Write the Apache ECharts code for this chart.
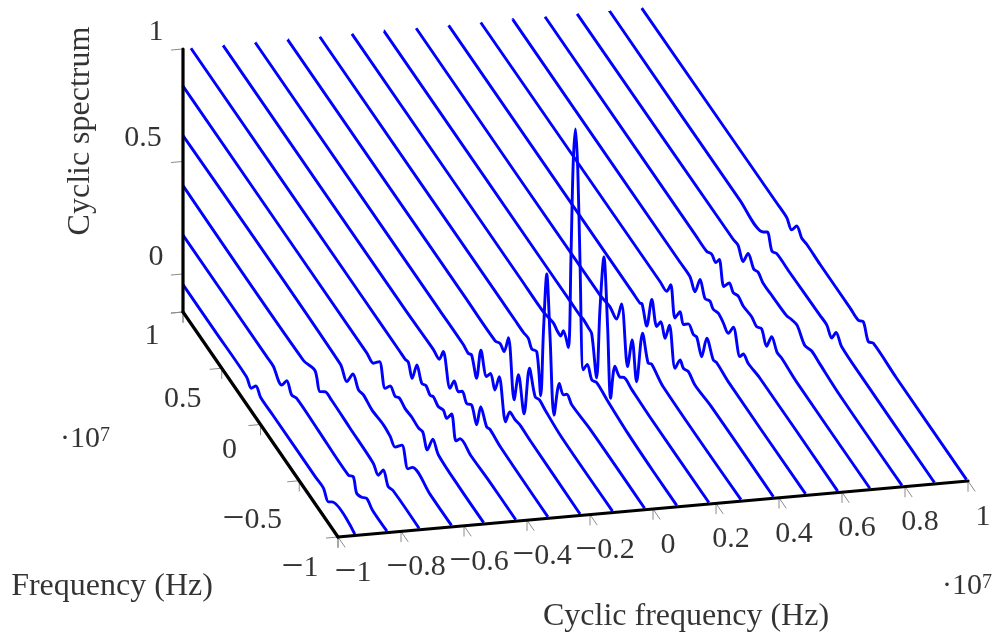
<!DOCTYPE html>
<html><head><meta charset="utf-8">
<style>html,body{margin:0;padding:0;background:#fff}#c{width:995px;height:635px}</style>
<script src="https://cdn.jsdelivr.net/npm/echarts@6/dist/echarts.min.js"></script>
</head><body><div id="c"></div>
<script>
// Tick values
const alphaTicks = [-1,-0.8,-0.6,-0.4,-0.2,0,0.2,0.4,0.6,0.8,1];
const alphaTickLabels = ['−1','−0.8','−0.6','−0.4','−0.2','0','0.2','0.4','0.6','0.8','1'];
const freqTicks = [-1,-0.5,0,0.5,1];
const freqTickLabels = ['−1','−0.5','0','0.5','1'];
const zTicks = [0,0.5,1];
const zTickLabels = ['0','0.5','1'];
// Cyclic frequency of each drawn line (×10^7 Hz)
const lineAlphas = [-1.022,-0.92,-0.818,-0.715,-0.613,-0.511,-0.409,-0.307,-0.204,-0.102,0,0.102,0.204,0.307,0.409,0.511,0.613,0.715,0.818,0.92];
// [frequency, spectrum] readings along each line
const lineM10 = [[0.5,0],[0.09,0],[0.03,-0.02],[-0.03,0.02],[-0.09,0],[-0.25,0],[-0.8,0],[-0.9,0.002],[-0.966,-0.027],[-1.01,-0.005]];
const lineM9 = [[0.245,0],[0.16,0],[0.052,-0.03],[-0.013,0.022],[-0.077,-0.009],[-0.142,0.008],[-0.42,0.005],[-0.808,0],[-0.872,0.025],[-0.916,-0.027],[-0.98,-0.012],[-1.045,0.015],[-1.12,0]];
const lineM8 = [[0.188,0],[0.037,0.03],[-0.027,-0.032],[-0.092,0],[-0.178,0.005],[-0.414,0],[-0.715,-0.006],[-0.78,-0.027],[-0.844,0.028],[-0.908,-0.014],[-0.97,0]];
const lineM7 = [[0.13,0],[0.044,-0.036],[-0.034,0.037],[-0.106,0.002],[-0.17,0.012],[-0.279,0],[-0.428,0.008],[-0.515,0],[-0.58,-0.015],[-0.666,0.037],[-0.743,-0.03],[-0.8,0.005],[-1.03,0]];
const lineM6 = [[0.2,0],[0.116,-0.003],[0.039,0.043],[-0.035,-0.039],[-0.1,0.004],[-0.164,-0.01],[-0.219,0.01],[-0.293,0],[-0.38,0.005],[-0.465,0],[-0.52,0.01],[-0.58,-0.04],[-0.65,0.043],[-0.723,0.009],[-1,0]];
const lineM5 = [[0.66,0],[0.187,0],[0.12,0],[0.08,0.007],[0.03,-0.04],[-0.03,0.05],[-0.093,0],[-0.148,0.017],[-0.2,0],[-0.243,0.015],[-0.307,0.003],[-0.372,0.02],[-0.415,0.005],[-0.477,0.055],[-0.535,-0.035],[-0.587,0],[-0.73,-0.005],[-0.97,0]];
const lineM4 = [[0.538,0],[0.173,0.005],[0.095,0],[0.044,0.06],[-0.043,-0.06],[-0.098,0],[-0.15,-0.022],[-0.2,0.005],[-0.258,-0.02],[-0.323,0.005],[-0.387,-0.05],[-0.439,0.056],[-0.516,0.005],[-0.559,0.015],[-0.688,0.005]];
const lineM3 = [[0.5,0],[0.2,0],[0.137,-0.007],[0.093,0.007],[0.028,-0.064],[-0.027,0.089],[-0.1,0.008],[-0.152,0.048],[-0.208,0.002],[-0.263,0.089],[-0.346,-0.07],[-0.4,0],[-0.466,0],[-0.53,0.008],[-0.66,0.005]];
const lineM2 = [[0.6,0],[0.208,0],[0.143,0.02],[0.092,0.01],[0.036,0.1],[-0.037,-0.14],[-0.093,0],[-0.166,-0.138],[-0.235,0.1],[-0.308,0.01],[-0.364,0.023],[-0.437,0.015],[-0.65,0]];
const lineM1 = [[0.559,0],[0.365,0],[0.258,0],[0.194,0.005],[0.15,-0.02],[0.085,0],[0.034,-0.17],[0,0.125],[-0.044,0.41],[-0.086,0.153],[-0.138,-0.17],[-0.206,0.005],[-0.258,-0.02],[-0.302,0.005],[-0.366,-0.01],[-0.6,0]];
const line0 = [[0.7,0],[0.415,0],[0.286,0.015],[0.235,0.005],[0.19,0.005],[0.157,0.045],[0.093,0.002],[0.058,0.43],[0.03,0.85],[0,1.02],[-0.03,0.85],[-0.058,0.46],[-0.1,0],[-0.152,0.05],[-0.21,0.01],[-0.274,0.03],[-0.4,0.02],[-0.68,0.005],[-1,0]];
const lineP1 = [[0.85,0],[0.486,0],[0.357,0],[0.315,0.005],[0.25,0],[0.206,-0.005],[0.142,-0.17],[0.1,0.15],[0.048,0.415],[0,0.125],[-0.039,-0.17],[-0.094,0],[-0.159,-0.016],[-0.21,0.008],[-0.31,0.005],[-0.55,0]];
const lineP2 = [[0.515,0],[0.386,0.012],[0.3,0],[0.235,0.1],[0.157,-0.14],[0.098,0.008],[0.041,-0.149],[-0.036,0.105],[-0.108,0.008],[-0.152,0.026],[-0.302,0]];
const lineP3 = [[0.5,0],[0.414,0],[0.39,0.01],[0.328,-0.058],[0.263,0.093],[0.2,0.004],[0.147,0.052],[0.092,0.006],[0.036,0.092],[-0.037,-0.063],[-0.102,0.006],[-0.145,-0.01],[-0.209,0.008],[-0.295,-0.01],[-0.5,0]];
const lineP4 = [[0.57,0.005],[0.485,0.005],[0.434,0.06],[0.378,-0.06],[0.313,0],[0.27,-0.035],[0.206,0],[0.142,-0.015],[0.098,-0.005],[0.034,-0.06],[-0.031,0.055],[-0.116,0],[-0.16,0.01],[-0.31,0]];
const lineP5 = [[0.73,0],[0.6,0],[0.535,-0.035],[0.47,0.053],[0.406,0],[0.342,0.02],[0.3,0.005],[0.235,0.02],[0.17,0.01],[0.106,-0.005],[0.041,0.055],[-0.045,-0.033],[-0.088,0],[-0.152,-0.01],[-0.303,0]];
const lineP6 = [[0.95,0],[0.8,0],[0.735,0.02],[0.68,0.01],[0.637,0.045],[0.577,-0.045],[0.508,0.005],[0.457,-0.012],[0.392,0.005],[0.328,-0.007],[0.219,0],[0.155,-0.012],[0.09,0.01],[0.026,-0.035],[-0.039,0.04],[-0.111,0.005],[-0.168,0.01],[-0.36,0]];
const lineP7 = [[0.87,0.005],[0.808,0.01],[0.743,-0.03],[0.679,0.038],[0.605,0.005],[0.55,0.02],[0.485,0.003],[0.356,0.005],[0.183,0.01],[0.119,0.025],[0.046,0.035],[-0.053,-0.005],[-0.139,0.015],[-0.246,0.01],[-0.5,0]];
const lineP8 = [[1.2,0],[0.9,0.01],[0.85,0.035],[0.79,-0.02],[0.728,0],[0.556,0],[0.17,0.005],[0.083,0.006],[0.018,-0.02],[-0.037,0.032],[-0.11,0.005],[-0.39,0]];
const lineP9 = [[1.165,0.005],[1.014,0.005],[0.95,-0.018],[0.885,0.032],[0.82,0.01],[0.756,0.015],[0.585,0.012],[0.197,0.012],[0.09,0.01],[0.026,0.036],[-0.039,-0.02],[-0.103,0.005],[-0.4,0]];
const lineReadings = [lineM10,lineM9,lineM8,lineM7,lineM6,lineM5,lineM4,lineM3,lineM2,lineM1,line0,lineP1,lineP2,lineP3,lineP4,lineP5,lineP6,lineP7,lineP8,lineP9];

// View of the 3D box onto the page
const zMin = -0.169, lineStartF = -1.306, topClipF = 2.885;
function project(a, f, z) {
  return [338 + 315*(a+1) - 77.5*(f+1),
          537 - 28*(a+1) - 112.5*(f+1) - 225*(z - zMin)];
}
const seg = (p, q, color, width, z2) => ({
  type:'line', data:[p,q], symbol:'none', silent:true, animation:false, clip:false, z:z2,
  lineStyle:{color, width, cap:'round'}
});
const TICK = '#8c8c8c', tw = 1;
const series = [];
// ticks: each has two stubs, along the other two axes' directions
const dirF = 0.09, dirZ = 0.046;
alphaTicks.forEach(a => {
  const p = project(a,-1,zMin);
  series.push(seg(p, project(a,-1-dirF,zMin), TICK, tw, 1));
  series.push(seg(p, project(a,-1,zMin-dirZ), TICK, tw, 1));
});
freqTicks.forEach(f => {
  const p = project(-1,f,zMin);
  series.push(seg(p, project(-1-0.037,f,zMin), TICK, tw, 1));
  series.push(seg(p, project(-1,f,zMin-dirZ), TICK, tw, 1));
});
zTicks.concat([zMin]).forEach(z => {
  const p = project(-1,1,z);
  series.push(seg(p, project(-1-0.037,1,z), TICK, tw, 1));
});
series.push(seg(project(-1,1,zMin), project(-1,1,zMin-dirZ), TICK, tw, 1));
// spectrum lines
lineAlphas.forEach((a,i) => {
  const endF = Math.min(topClipF, 1 + 4.0645*(a+1));
  const pts = [[lineStartF,0]].concat(lineReadings[i].slice().sort((u,v)=>u[0]-v[0]), [[endF,0]]);
  series.push({type:'line', data:pts.map(d=>project(a,d[0],d[1])), symbol:'none', smooth:0.3,
    silent:true, animation:false, clip:false, z:2,
    lineStyle:{color:'#0000ff', width:2.9, join:'round'}});
});
// axis lines
series.push(seg(project(-1,-1,zMin), project(1,-1,zMin), '#000', 3.2, 3));
series.push(seg(project(-1,-1,zMin), project(-1,1,zMin), '#000', 3.2, 3));
series.push(seg(project(-1,1,zMin), project(-1,1,1), '#000', 3.2, 3));
// labels
const SERIF = '"Liberation Serif",serif';
const FONT = {fontFamily:SERIF, fontSize:30, color:'#000', align:'center', verticalAlign:'middle'};
const numRich = {rich:{m:{fontFamily:SERIF, fontSize:39, color:'#000'}, n:{fontFamily:SERIF, fontSize:30, color:'#000'}}};
const numText = t => t.startsWith('−') ? '{m|−}{n|' + t.slice(1) + '}' : '{n|' + t + '}';
const textSeries = (items) => ({
  type:'scatter', symbolSize:0, silent:true, animation:false, clip:false, z:4,
  data: items.map(it => ({value:it.p, label:{show:true, position:'inside', formatter:it.t, offset:it.o, ...FONT, ...(it.x||{})}}))
});
const freqOffsets = [[-38,31],[-47,39],[-31,26],[-39,31],[-31,24]];
const zOffsets = [[-27,-17],[-40,-23],[-27,-17]];
series.push(textSeries(alphaTicks.map((a,i)=>({p:project(a,-1,zMin), t:numText(alphaTickLabels[i]), o:[15,36], x:numRich}))));
series.push(textSeries(freqTicks.map((f,i)=>({p:project(-1,f,zMin), t:numText(freqTickLabels[i]), o:freqOffsets[i], x:numRich}))));
series.push(textSeries(zTicks.map((z,i)=>({p:project(-1,1,z), t:numText(zTickLabels[i]), o:zOffsets[i], x:numRich}))));
const sup = {rich:{s:{fontFamily:SERIF, fontSize:20, color:'#000', verticalAlign:'bottom', padding:[0,0,8,0]},
                   b:{fontFamily:SERIF, fontSize:30, color:'#000'}}};
const title = {fontSize:32};
const ax = (x,y,t,ex) => ({p:[x,y], t, o:[0,0], x:ex});
series.push(textSeries([
  ax(686,617,'Cyclic frequency (Hz)',title),
  ax(112,587,'Frequency (Hz)',title),
  ax(81,131,'Cyclic spectrum',{rotate:90, fontSize:32}),
  ax(85,439,'{b|·10}{s|7}',sup),
  ax(967,586,'{b|·10}{s|7}',sup)
]));
const chart = echarts.init(document.getElementById('c'), null, {renderer:'canvas'});
chart.setOption({
  animation:false, backgroundColor:'#fff',
  grid:{left:0,right:0,top:0,bottom:0},
  xAxis:{type:'value',min:0,max:995,show:false},
  yAxis:{type:'value',min:0,max:635,inverse:true,show:false},
  series
});
</script></body></html>
